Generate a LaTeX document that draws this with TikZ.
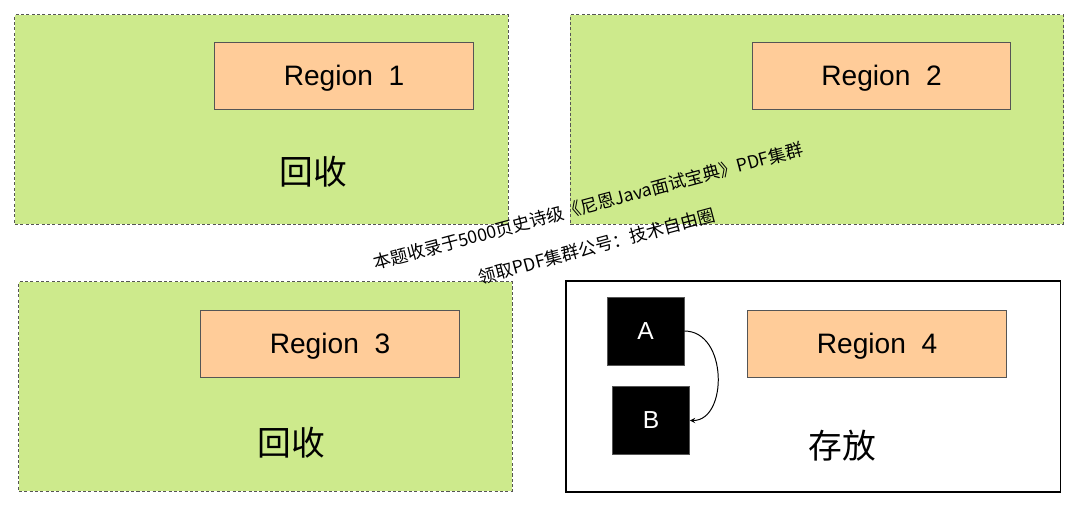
\documentclass[tikz,border=0pt]{standalone}
\usepackage{fontspec}
\setmainfont{Liberation Sans}
\newfontfamily\cjk{Noto Sans CJK SC}
\usepackage{xcolor}
\usepackage{tikz}
\usetikzlibrary{shapes.geometric, arrows, positioning}
\definecolor{gcgreen}{HTML}{CDEA8C}
\definecolor{regionpeach}{HTML}{FFCC99}
\definecolor{edgegray}{HTML}{555555}
\tikzstyle{arrow} = [->, >=stealth, line width=0.7pt]
\tikzstyle{gcbox} = [rectangle, draw=edgegray, fill=gcgreen, dash pattern=on 2.2pt off 1.6pt, line width=0.7pt, minimum width=12.325cm, minimum height=5.225cm]
\tikzstyle{storebox} = [rectangle, draw=black, fill=white, line width=0.8pt, minimum width=12.35cm, minimum height=5.275cm]
\tikzstyle{regionbox} = [rectangle, draw=edgegray, fill=regionpeach, line width=0.7pt, minimum width=6.45cm, minimum height=1.675cm, text depth=0pt, font=\fontsize{20}{24}\selectfont]
\tikzstyle{objbox} = [rectangle, draw=edgegray, fill=black, text=white, minimum width=1.925cm, minimum height=1.69cm, font=\fontsize{17.5}{20}\selectfont]
\tikzstyle{bigtext} = [font=\cjk\fontsize{24}{28}\selectfont]
\tikzstyle{marktext} = [font=\cjk\fontsize{12.5}{15}\selectfont, rotate=15]

\begin{document}
\begin{tikzpicture}[x=0.025cm, y=-0.025cm]
  \fill[white] (0,0) rectangle (1080,509);
  \useasboundingbox (0,0) rectangle (1080,509);

  % Top Row
  \node[gcbox] (gc_one) at (261.5, 119.5) {};
  \node[gcbox] (gc_two) at (817, 119.5) {};
  \node[regionbox] (region_one) at (344, 75.5) {Region\ \ 1};
  \node[regionbox] (region_two) at (881.5, 75.5) {Region\ \ 2};
  \node[bigtext] (recycle_one) at (313, 172) {回收};

  % Bottom Row
  \node[gcbox] (gc_three) at (265.5, 386.5) {};
  \node[storebox] (store_four) at (813, 386.5) {};
  \node[regionbox] (region_three) at (330, 343.5) {Region\ \ 3};
  \node[regionbox] (region_four) at (877, 343.5) {Region\ \ 4};
  \node[bigtext] (recycle_three) at (291, 443) {回收};
  \node[bigtext] (store_text) at (842, 446) {存放};

  % Objects
  \node[objbox] (obj_a) at (645.5, 331) {A};
  \node[objbox] (obj_b) at (651, 420.5) {B};
  \draw[arrow] (obj_a.east) .. controls (728, 331) and (728, 420.5) .. (obj_b.east);

  % Watermark
  \node[marktext] (mark_one) at (588, 206) {本题收录于5000页史诗级《尼恩Java面试宝典》PDF集群};
  \node[marktext] (mark_two) at (597, 246) {领取PDF集群公号：技术自由圈};

\end{tikzpicture}
\end{document}
